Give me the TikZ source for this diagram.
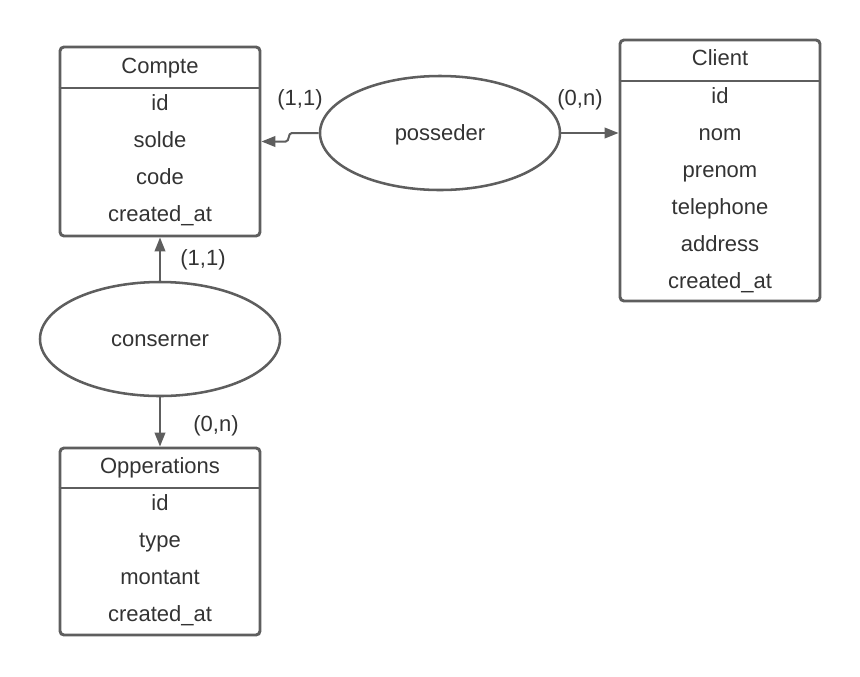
\documentclass[tikz,border=0pt]{standalone}
\usepackage{fontspec}
\setmainfont{Liberation Sans}
\usetikzlibrary{arrows.meta,shapes.geometric}
\definecolor{linegray}{HTML}{5E5E5E}
\definecolor{textgray}{HTML}{333333}
\tikzset{
	entity/.style={draw=linegray,line width=2.2pt,rounded corners=3pt,minimum width=150pt,inner sep=0pt},
	relation/.style={draw=linegray,line width=1.9pt,ellipse,minimum width=180pt,minimum height=85.5pt,inner sep=0pt,text height=15pt,text depth=3.6pt},
	conn/.style={draw=linegray,line width=1.5pt,-{Triangle[length=10.5pt,width=8pt]}},
	txt/.style={text=textgray,font=\fontsize{16.5}{19}\selectfont},
	row/.style={text height=12pt,text depth=3.5pt,inner sep=0pt,yshift=-1.5pt}
}
\begin{document}
\begin{tikzpicture}[x=0.75pt,y=-0.75pt,txt]
\useasboundingbox (0,0) rectangle (860,676);
% entities
\node[entity,minimum height=141.75pt] (compte) at (160,141.5) {};
\node[entity,minimum height=195.75pt] (client) at (720,170.5) {};
\node[entity,minimum height=140.25pt] (opps) at (160,541.5) {};
\coordinate (hcompte) at (0,88);
\coordinate (hclient) at (0,81);
\coordinate (hopps) at (0,488);
\draw[draw=linegray,line width=2.2pt] (compte.west |- hcompte) -- (compte.east |- hcompte);
\draw[draw=linegray,line width=2.2pt] (client.west |- hclient) -- (client.east |- hclient);
\draw[draw=linegray,line width=2.2pt] (opps.west |- hopps) -- (opps.east |- hopps);
\node[row] (comptetitle) at (160,66) {Compte};
\node[row] (clienttitle) at (720,58) {Client};
\node[row] (oppstitle) at (160,466) {Opperations};
\foreach \t [count=\i] in {id,solde,code,created\_at}{
	\node[row] (compte-\i) at (160,103+37*\i-37) {\t};
}
\foreach \t [count=\i] in {id,nom,prenom,telephone,address,created\_at}{
	\node[row] (client-\i) at (720,96+37*\i-37) {\t};
}
\foreach \t [count=\i] in {id,type,montant,created\_at}{
	\node[row] (opps-\i) at (160,503+37*\i-37) {\t};
}
% relations
\node[relation] (posseder) at (440,133) {posseder};
\node[relation] (conserner) at (160,339) {conserner};
\draw[conn] (posseder.west) -- ++(-27,0) to[out=180,in=0] ++(-6,8.5) -- (compte.east);
\draw[conn] (posseder.east) -- (posseder.east -| client.west);
\draw[conn] (conserner.north) -- (compte.south);
\draw[conn] (conserner.south) -- (opps.north);
% cardinalities
\node[row] (c1) at (300,98) {(1,1)};
\node[row] (c2) at (580,98) {(0,n)};
\node[row] (c3) at (203,258) {(1,1)};
\node[row] (c4) at (216,424) {(0,n)};
\end{tikzpicture}
\end{document}
